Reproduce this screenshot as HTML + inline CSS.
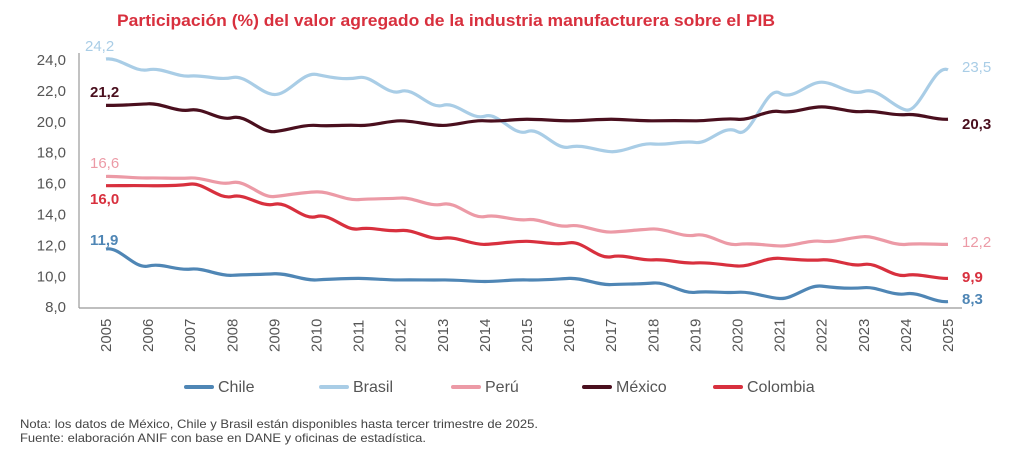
<!DOCTYPE html><html><head><meta charset="utf-8"><style>
body{margin:0;background:#fff;width:1024px;height:451px;overflow:hidden;font-family:"Liberation Sans",sans-serif}
</style></head><body>
<svg id="s" width="1024" height="451" xmlns="http://www.w3.org/2000/svg" font-family="Liberation Sans, sans-serif">
<text x="117" y="26" font-size="16.5" font-weight="bold" fill="#d8303e" textLength="658" lengthAdjust="spacingAndGlyphs">Participación (%) del valor agregado de la industria manufacturera sobre el PIB</text>
<line x1="79" y1="53" x2="79" y2="308" stroke="#999" stroke-width="1.2"/>
<line x1="79" y1="308" x2="962" y2="308" stroke="#999" stroke-width="1.2"/>
<g id="g"></g>
<text x="20" y="428" font-size="12" fill="#444" textLength="518" lengthAdjust="spacingAndGlyphs">Nota: los datos de México, Chile y Brasil están disponibles hasta tercer trimestre de 2025.</text>
<text x="20" y="442" font-size="12" fill="#444" textLength="406" lengthAdjust="spacingAndGlyphs">Fuente: elaboración ANIF con base en DANE y oficinas de estadística.</text>
</svg>
<script>
var g=document.getElementById('g'),h='';
function Y(v){return 59+(24-v)*15.45}
function X(i){return 106+i*42.1}
for(var v=8;v<=24;v+=2)h+='<text x="66" y="'+(Y(v)+6)+'" font-size="15" fill="#555" text-anchor="end">'+v.toFixed(1).replace('.',',')+'</text>';
for(var i=0;i<21;i++)h+='<text transform="translate('+(X(i)+5)+',352) rotate(-90)" font-size="15" fill="#555">'+(2005+i)+'</text>';
var S=[
['#a9cde6',[24.0,23.3,22.9,22.8,21.7,23.0,22.8,21.9,21.0,20.3,19.3,18.3,18.0,18.5,18.6,19.3,21.8,22.5,21.9,20.7,23.3]],
['#4a0f1e',[21.0,21.1,20.7,20.2,19.3,19.7,19.7,20.0,19.7,20.0,20.1,20.0,20.1,20.0,20.0,20.1,20.6,20.9,20.6,20.4,20.1]],
['#ec9aa6',[16.4,16.3,16.3,16.0,15.1,15.4,14.9,15.0,14.6,13.8,13.6,13.2,12.8,13.0,12.6,12.0,11.9,12.2,12.5,12.0,12.0]],
['#d8303e',[15.8,15.8,15.9,15.1,14.6,13.8,13.0,12.9,12.4,12.0,12.2,12.1,11.2,11.0,10.8,10.6,11.1,11.0,10.7,10.0,9.8]],
['#4f86b5',[11.7,10.6,10.4,10.0,10.1,9.7,9.8,9.7,9.7,9.6,9.7,9.8,9.4,9.5,8.9,8.9,8.5,9.3,9.2,8.8,8.3]]];
S.forEach(function(s){var d=s[1],p='M'+X(0)+','+Y(d[0]);
for(var i=0;i<20;i++){var a=d[Math.max(i-1,0)],b=d[i],c=d[i+1],e=d[Math.min(i+2,20)];
p+='C'+(X(i)+14.03)+','+(Y(b)-(Y(c)-Y(a))/6)+' '+(X(i+1)-14.03)+','+(Y(c)+(Y(e)-Y(b))/6)+' '+X(i+1)+','+Y(c);}
h+='<path d="'+p+'" fill="none" stroke="'+s[0]+'" stroke-width="3.2"/>';});
var L=[['24,2',85,51,'#a9cde6'],['21,2',90,97,'#4a0f1e'],['16,6',90,168,'#ec9aa6'],['16,0',90,204,'#d8303e'],['11,9',90,245,'#4f86b5'],
['23,5',962,72,'#a9cde6'],['20,3',962,129,'#4a0f1e'],['12,2',962,247,'#ec9aa6'],['9,9',962,282,'#d8303e'],['8,3',962,304,'#4f86b5']];
L.forEach(function(l){h+='<text x="'+l[1]+'" y="'+l[2]+'" font-size="15" font-weight="'+(l[3]=='#a9cde6'||l[3]=='#ec9aa6'?'normal':'bold')+'" fill="'+l[3]+'">'+l[0]+'</text>';});
var G=[['Chile',186,'#4f86b5'],['Brasil',321,'#a9cde6'],['Perú',453,'#ec9aa6'],['México',584,'#4a0f1e'],['Colombia',715,'#d8303e']];
G.forEach(function(l){h+='<line x1="'+l[1]+'" y1="387" x2="'+(l[1]+26)+'" y2="387" stroke="'+l[2]+'" stroke-width="4" stroke-linecap="round"/><text x="'+(l[1]+32)+'" y="392" font-size="16" fill="#555">'+l[0]+'</text>';});
g.innerHTML=h;
</script>
</body></html>
